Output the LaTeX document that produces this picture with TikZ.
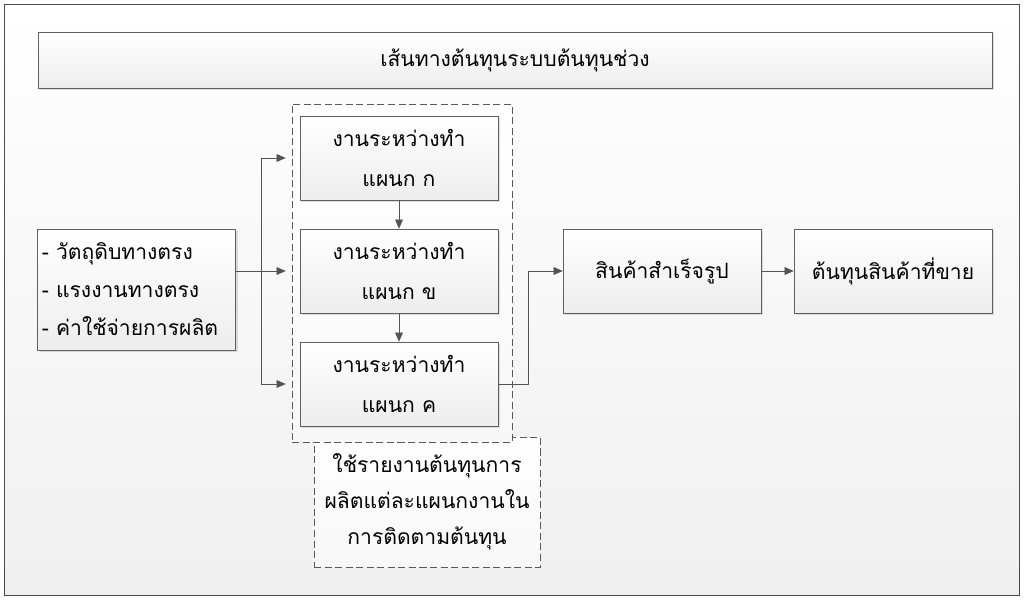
\documentclass[tikz,border=0pt]{standalone}
\usepackage{fontspec}
\newfontfamily\thaifont[Script=Thai]{Loma}
\usetikzlibrary{shadows,arrows.meta}
\newcommand{\pxl}{0.025cm}

\tikzset{
	stepbox/.style={draw=gray!75!black, top color=white, bottom color=gray!14,
		drop shadow={opacity=0.25, shadow xshift=0.05cm, shadow yshift=-0.05cm},
		inner sep=0pt, align=center, minimum width=198*\pxl, minimum height=84*\pxl,
		font=\thaifont\fontsize{15}{28}\selectfont},
	dashbox/.style={draw=gray!70!black, dash pattern=on 5pt off 2.5pt, top color=white, bottom color=gray!6,
		inner sep=0pt},
	conn/.style={draw=gray!65!black, thin},
	arr/.style={conn, -{Triangle[length=6.5pt, width=5.5pt]}}
}

\begin{document}
\begin{tikzpicture}[x=\pxl, y=-\pxl]
	\useasboundingbox (0,0) rectangle (1024,599);
	\draw[gray!60!black, semithick, top color=white, bottom color=gray!12] (4,4) rectangle (1019,595);
	\node[stepbox, minimum width=954*\pxl, minimum height=56*\pxl] (title) at (515,60) {เส้นทางต้นทุนระบบต้นทุนช่วง};
	\node[stepbox, align=left, text width=189*\pxl, minimum height=121*\pxl,
		font=\thaifont\fontsize{15}{27}\selectfont] (input) at (136.5,289.5)
		{- วัตถุดิบทางตรง\\- แรงงานทางตรง\\- ค่าใช้จ่ายการผลิต};
	% note under the departments
	\node[dashbox, minimum width=226*\pxl, minimum height=130*\pxl, align=center,
		font=\thaifont\fontsize{15}{25.5}\selectfont] (note) at (427,502)
		{ใช้รายงานต้นทุนการ\\ผลิตแต่ละแผนกงานใน\\การติดตามต้นทุน};
	\node[dashbox, minimum width=220*\pxl, minimum height=338*\pxl] (grp) at (402,273) {};
	\node[stepbox] (depA) at (399,158) {งานระหว่างทำ\\แผนก ก};
	\node[stepbox] (depB) at (399,271) {งานระหว่างทำ\\แผนก ข};
	\node[stepbox] (depC) at (399,384) {งานระหว่างทำ\\แผนก ค};
	\node[stepbox] (fin) at (662,271) {สินค้าสำเร็จรูป};
	\node[stepbox] (cogs) at (893,271) {ต้นทุนสินค้าที่ขาย};
	\coordinate (bus) at (261,271);
	\coordinate (turn) at (528,0);
	\draw[arr, shorten >=6*\pxl] (input.east |- bus) -- (grp.west |- depB.west);
	\draw[arr, shorten >=6*\pxl] (bus) |- (grp.west |- depA.west);
	\draw[arr, shorten >=6*\pxl] (bus) |- (grp.west |- depC.west);
	\draw[arr] (depA) -- (depB);
	\draw[arr] (depB) -- (depC);
	\draw[arr] (depC.east) -| (turn |- fin.west) -- (fin.west);
	\draw[arr] (fin) -- (cogs);
\end{tikzpicture}
\end{document}
